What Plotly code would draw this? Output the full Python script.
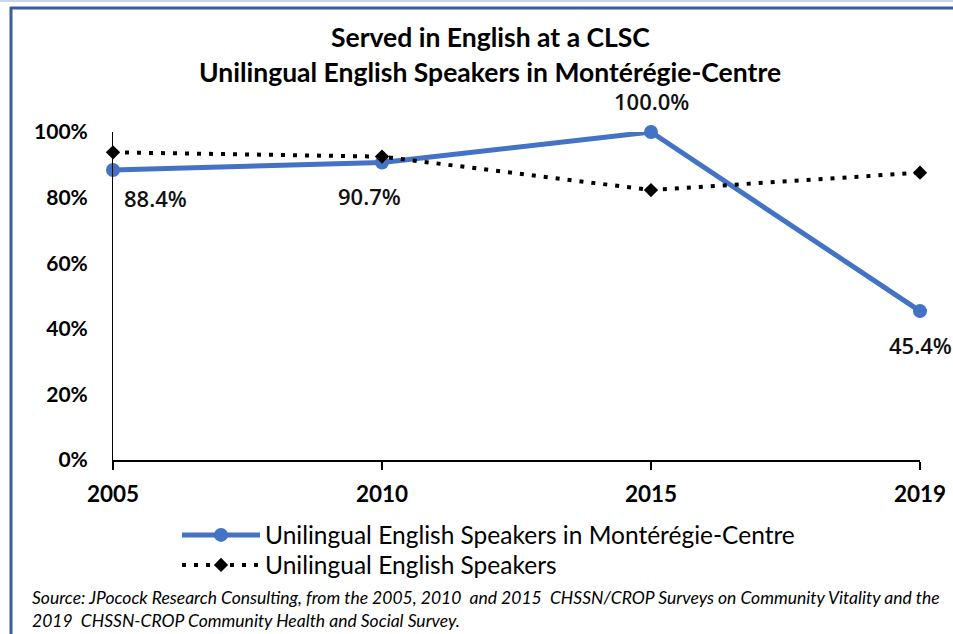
import plotly.graph_objects as go

years = ["2005", "2010", "2015", "2019"]
monteregie = [0.884, 0.907, 1.000, 0.454]
unilingual = [0.938, 0.925, 0.823, 0.876]
y_ticks = [0, 0.2, 0.4, 0.6, 0.8, 1.0]
title_lines = ["Served in English at a CLSC", "Unilingual English Speakers in Montérégie-Centre"]
series_names = ["Unilingual English Speakers in Montérégie-Centre", "Unilingual English Speakers"]
source_lines = [
    "Source: JPocock Research Consulting, from the 2005, 2010&nbsp; and 2015&nbsp; CHSSN/CROP Surveys on Community Vitality and the",
    "2019&nbsp; CHSSN-CROP Community Health and Social Survey.",
]

W, H = 953, 634
L, R, T, B = 113, 33, 132, 174
pw, ph = W - L - R, H - T - B

def px(x):
    return (x - L) / pw

def py(y):
    return (H - B - y) / ph

FONT = "Lato, 'Noto Sans', sans-serif"
BLUE = "#4472C4"

fig = go.Figure()
fig.add_trace(go.Scatter(
    x=years, y=monteregie, name=series_names[0], mode="lines+markers",
    line=dict(color=BLUE, width=5), marker=dict(symbol="circle", size=14, color=BLUE),
    cliponaxis=False, legend="legend",
))
fig.add_trace(go.Scatter(
    x=years, y=unilingual, name=series_names[1], mode="lines+markers",
    line=dict(color="black", width=4, dash="4px,8px"),
    marker=dict(symbol="diamond", size=11, color="black"),
    cliponaxis=False, legend="legend2",
))

# data labels (x given as category index)
shifts = [(42, -28), (-13, -33), (0, 31), (0, -34)]
for i, (yv, (dx, dy)) in enumerate(zip(monteregie, shifts)):
    fig.add_annotation(x=i, y=yv, xref="x", yref="y", text=f"{yv*100:.1f}%",
                       showarrow=False, xshift=dx, yshift=dy,
                       font=dict(family="Open Sans, Noto Sans, sans-serif", size=22,
                                 color="#111111", weight=600))

# titles
for i, t in enumerate(title_lines):
    fig.add_annotation(x=px(490), y=py([37, 72][i]), xref="paper", yref="paper", text=f"<b>{t}</b>",
                       showarrow=False, xanchor="center", yanchor="middle",
                       font=dict(family=FONT, size=26.5, color="black"))

# source
for i, t in enumerate(source_lines):
    fig.add_annotation(x=px(30), y=py([597, 620][i]), xref="paper", yref="paper", text=f"<i>{t}</i>",
                       showarrow=False, xanchor="left", yanchor="middle",
                       font=dict(family=FONT, size=17.5, color="black"))

# frame
fig.add_shape(type="line", xref="paper", yref="paper", x0=px(0), x1=px(W), y0=py(1), y1=py(1),
              line=dict(color="#c9d5e8", width=2))
fig.add_shape(type="line", xref="paper", yref="paper", x0=px(10), x1=px(W), y0=py(8), y1=py(8),
              line=dict(color="#3A5DA0", width=3))
fig.add_shape(type="line", xref="paper", yref="paper", x0=px(11), x1=px(11), y0=py(7), y1=py(H),
              line=dict(color="#3A5DA0", width=3))

leg_common = dict(xanchor="left", yanchor="middle", orientation="v",
                  font=dict(family=FONT, size=24.5, color="black"), itemwidth=78,
                  bgcolor="rgba(0,0,0,0)")

fig.update_layout(
    width=W, height=H, margin=dict(l=L, r=R, t=T, b=B, autoexpand=False),
    paper_bgcolor="white", plot_bgcolor="white",
    font=dict(family=FONT, color="black"),
    showlegend=True,
    legend=dict(x=px(177), y=py(535), **leg_common),
    legend2=dict(x=px(177), y=py(565), **leg_common),
    xaxis=dict(type="category", range=[0, 3], showline=True, linecolor="black", linewidth=2,
               ticks="outside", ticklen=8, tickcolor="black", tickwidth=1.5, showgrid=False,
               zeroline=False, tickfont=dict(family=FONT, size=22.5, color="black", weight="bold"),
               ticklabelstandoff=5),
    yaxis=dict(range=[0, 1], tickvals=y_ticks, tickformat=".0%", showline=True, linecolor="black",
               linewidth=1, ticks="", showgrid=False, zeroline=False,
               tickfont=dict(family=FONT, size=21, color="black", weight="bold"),
               ticklabelstandoff=20),
)

fig.write_html("out.html", config={"displayModeBar": False},
               post_script="document.body.style.margin='0';")
